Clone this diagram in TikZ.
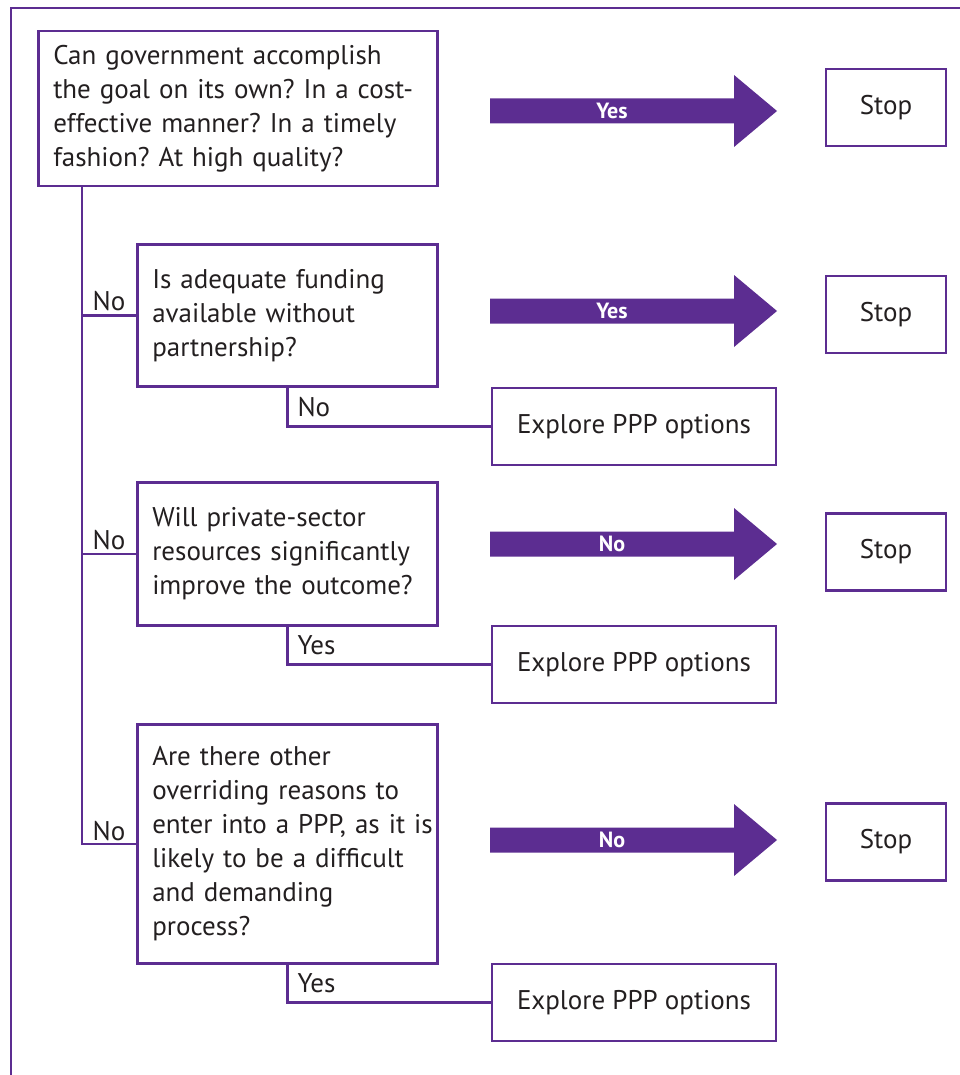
\documentclass[tikz,border=0pt]{standalone}
\usepackage{fontspec}
\setmainfont{PT Sans}
\usetikzlibrary{calc}
\definecolor{ppurple}{RGB}{92,45,145}
\definecolor{ink}{RGB}{35,31,32}
\frenchspacing

\def\bodyfont{\fontsize{27}{34}\selectfont}

\tikzset{
  qbox/.style={draw=ppurple, line width=2.5pt, text=ink, align=left,
    text width=#1, inner xsep=0pt, anchor=north west, font=\bodyfont,
    execute at begin node={\leftskip=15pt\rightskip=-30pt plus 1fil}},
  stopbox/.style={draw=ppurple, line width=2.5pt, text=ink,
    minimum width=120pt, minimum height=77pt, font=\bodyfont},
  explbox/.style={draw=ppurple, line width=2.5pt, text=ink,
    minimum width=284pt, minimum height=77pt, font=\bodyfont},
  wire/.style={draw=ppurple, line width=2.5pt},
  wirelbl/.style={text=ink, font=\bodyfont, inner sep=3pt},
  arrlbl/.style={text=white, font=\bfseries\fontsize{22}{22}\selectfont}
}

\begin{document}
\begin{tikzpicture}[x=1pt, y=-1pt]
  \useasboundingbox (0,0) rectangle (960,1075);

  % outer frame (cut at the page edge)
  \draw[wire] (11,1075) -- (11,8) -- (960,8);

  % questions
  \node[qbox=399pt, minimum height=155pt] (q1) at (37,30)
    {Can government accomplish\\the goal on its own? In a cost-\\effective manner? In a timely\\fashion? At high quality?};
  \node[qbox=300pt, minimum height=142pt] (q2) at (136,243)
    {Is adequate funding\\available without\\partnership?};
  \node[qbox=300pt, minimum height=143pt] (q3) at (136,481)
    {Will private-sector\\resources significantly\\improve the outcome?};
  \node[qbox=300pt, minimum height=239pt] (q4) at (136,723)
    {Are there other\\overriding reasons to\\enter into a PPP, as it is\\likely to be a difficult\\and demanding\\process?};

  % explore boxes
  \node[explbox] (ex2) at (634,426.5) {Explore PPP options};
  \node[explbox] (ex3) at (634,664.5) {Explore PPP options};
  \node[explbox] (ex4) at (634,1002.5) {Explore PPP options};

  % big arrows and stops
  \foreach \ya/\ys/\txt [count=\i] in {111/107.5/Yes, 311/314.5/Yes, 544/552/No, 840/842/No}{
    \fill[ppurple] (490,\ya-12.5) -- (734,\ya-12.5) -- (734,\ya-36) -- (777,\ya)
      -- (734,\ya+36) -- (734,\ya+12.5) -- (490,\ya+12.5) -- cycle;
    \node[arrlbl] (ans\i) at (612,\ya) {\txt};
    \node[stopbox] (stop\i) at (886,\ys) {Stop};
  }

  % trunk on the left
  \coordinate (trunk) at ($(q1.south west)+(45,0)$);
  \draw[wire] (trunk) |- (q4.west);
  \path (q4.west) -- node[wirelbl, above] {No} (q4.west -| trunk);
  \foreach \q in {q2,q3}{
    \draw[wire] (\q.west) -- node[wirelbl, above] {No} (\q.west -| trunk);
  }

  % down to the explore boxes
  \draw[wire] (q2.south) |- node[wirelbl, pos=0.25, anchor=west, xshift=6pt] {No} (ex2.west);
  \draw[wire] (q3.south) |- node[wirelbl, pos=0.25, anchor=west, xshift=6pt] {Yes} (ex3.west);
  \draw[wire] (q4.south) |- node[wirelbl, pos=0.25, anchor=west, xshift=6pt] {Yes} (ex4.west);

\end{tikzpicture}
\end{document}
